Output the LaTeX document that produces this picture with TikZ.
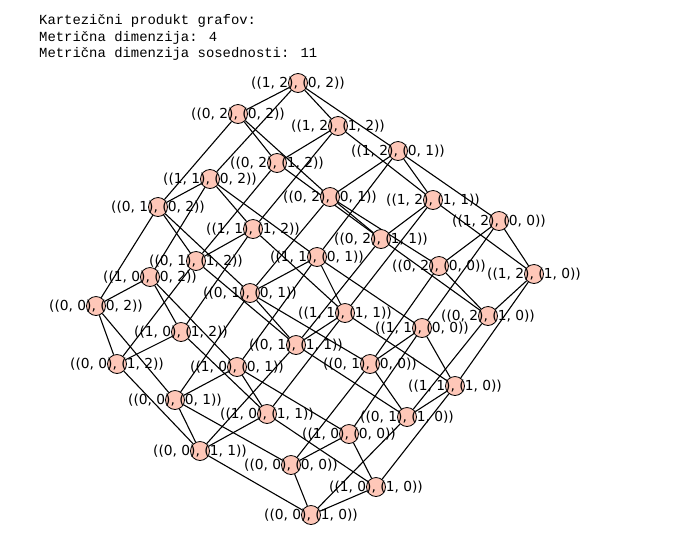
\documentclass[tikz,border=0pt]{standalone}
\usepackage{fontspec}
\newfontfamily\labelfont{DejaVu Sans}
\newfontfamily\headfont{Liberation Mono}
\definecolor{vfill}{HTML}{FEC7B8}
\pgfdeclarelayer{background}
\pgfsetlayers{background,main}
\tikzset{
  vert/.style={circle, draw, fill=vfill, minimum size=19pt, inner sep=0pt, line width=0.8pt},
  vlabel/.style={font=\labelfont\fontsize{13.8}{16}\selectfont, inner sep=0pt},
  edg/.style={line width=1.1pt}
}
\begin{document}
\begin{tikzpicture}[x=1pt, y=-1pt]
        \useasboundingbox (0, 0) rectangle (688, 539);
        \node[anchor=north west, align=left, inner sep=0pt, font=\headfont\fontsize{13.9}{16.5}\selectfont] (head) at (39, 14.5)
          {Kartezični produkt grafov:\\Metrična dimenzija: 4\\Metrična dimenzija sosednosti: 11};
        \node[vert, label={[vlabel]center:((1, 2), (0, 2))}] (v1202) at (298, 83) {};
        \node[vert, label={[vlabel]center:((0, 2), (0, 2))}] (v0202) at (238, 114) {};
        \node[vert, label={[vlabel]center:((1, 2), (1, 2))}] (v1212) at (338, 126) {};
        \node[vert, label={[vlabel]center:((1, 2), (0, 1))}] (v1201) at (398, 151) {};
        \node[vert, label={[vlabel]center:((0, 2), (1, 2))}] (v0212) at (277, 163) {};
        \node[vert, label={[vlabel]center:((1, 1), (0, 2))}] (v1102) at (210, 179) {};
        \node[vert, label={[vlabel]center:((0, 2), (0, 1))}] (v0201) at (330, 197) {};
        \node[vert, label={[vlabel]center:((1, 2), (1, 1))}] (v1211) at (433, 200) {};
        \node[vert, label={[vlabel]center:((0, 1), (0, 2))}] (v0102) at (158, 207) {};
        \node[vert, label={[vlabel]center:((1, 2), (0, 0))}] (v1200) at (499, 221) {};
        \node[vert, label={[vlabel]center:((1, 1), (1, 2))}] (v1112) at (253, 229) {};
        \node[vert, label={[vlabel]center:((0, 2), (1, 1))}] (v0211) at (381, 239) {};
        \node[vert, label={[vlabel]center:((1, 1), (0, 1))}] (v1101) at (317, 257) {};
        \node[vert, label={[vlabel]center:((0, 1), (1, 2))}] (v0112) at (196, 261) {};
        \node[vert, label={[vlabel]center:((0, 2), (0, 0))}] (v0200) at (439, 266) {};
        \node[vert, label={[vlabel]center:((1, 2), (1, 0))}] (v1210) at (534, 274) {};
        \node[vert, label={[vlabel]center:((1, 0), (0, 2))}] (v1002) at (150, 277) {};
        \node[vert, label={[vlabel]center:((0, 1), (0, 1))}] (v0101) at (250, 293) {};
        \node[vert, label={[vlabel]center:((0, 0), (0, 2))}] (v0002) at (96, 306) {};
        \node[vert, label={[vlabel]center:((0, 2), (1, 0))}] (v0210) at (488, 316) {};
        \node[vert, label={[vlabel]center:((1, 1), (1, 1))}] (v1111) at (345, 313) {};
        \node[vert, label={[vlabel]center:((1, 0), (1, 2))}] (v1012) at (181, 332) {};
        \node[vert, label={[vlabel]center:((1, 1), (0, 0))}] (v1100) at (422, 328) {};
        \node[vert, label={[vlabel]center:((0, 1), (1, 1))}] (v0111) at (296, 345) {};
        \node[vert, label={[vlabel]center:((0, 0), (1, 2))}] (v0012) at (117, 364) {};
        \node[vert, label={[vlabel]center:((1, 0), (0, 1))}] (v1001) at (237, 367) {};
        \node[vert, label={[vlabel]center:((0, 1), (0, 0))}] (v0100) at (370, 364) {};
        \node[vert, label={[vlabel]center:((1, 1), (1, 0))}] (v1110) at (455, 386) {};
        \node[vert, label={[vlabel]center:((0, 0), (0, 1))}] (v0001) at (175, 400) {};
        \node[vert, label={[vlabel]center:((1, 0), (1, 1))}] (v1011) at (267, 414) {};
        \node[vert, label={[vlabel]center:((0, 1), (1, 0))}] (v0110) at (407, 417) {};
        \node[vert, label={[vlabel]center:((1, 0), (0, 0))}] (v1000) at (349, 434) {};
        \node[vert, label={[vlabel]center:((0, 0), (1, 1))}] (v0011) at (200, 451) {};
        \node[vert, label={[vlabel]center:((0, 0), (0, 0))}] (v0000) at (291, 465) {};
        \node[vert, label={[vlabel]center:((1, 0), (1, 0))}] (v1010) at (376, 487) {};
        \node[vert, label={[vlabel]center:((0, 0), (1, 0))}] (v0010) at (311, 515) {};
        \begin{pgfonlayer}{background}
        \begin{scope}[edg]
        % edges of the first factor
        \draw (v0000) to (v0100); \draw (v0100) to (v0200); \draw (v1000) to (v1100); \draw (v1100) to (v1200);
        \draw (v0000) to (v1000); \draw (v0100) to (v1100); \draw (v0200) to (v1200);
        \draw (v0001) to (v0101); \draw (v0101) to (v0201); \draw (v1001) to (v1101); \draw (v1101) to (v1201);
        \draw (v0001) to (v1001); \draw (v0101) to (v1101); \draw (v0201) to (v1201);
        \draw (v0002) to (v0102); \draw (v0102) to (v0202); \draw (v1002) to (v1102); \draw (v1102) to (v1202);
        \draw (v0002) to (v1002); \draw (v0102) to (v1102); \draw (v0202) to (v1202);
        \draw (v0010) to (v0110); \draw (v0110) to (v0210); \draw (v1010) to (v1110); \draw (v1110) to (v1210);
        \draw (v0010) to (v1010); \draw (v0110) to (v1110); \draw (v0210) to (v1210);
        \draw (v0011) to (v0111); \draw (v0111) to (v0211); \draw (v1011) to (v1111); \draw (v1111) to (v1211);
        \draw (v0011) to (v1011); \draw (v0111) to (v1111); \draw (v0211) to (v1211);
        \draw (v0012) to (v0112); \draw (v0112) to (v0212); \draw (v1012) to (v1112); \draw (v1112) to (v1212);
        \draw (v0012) to (v1012); \draw (v0112) to (v1112); \draw (v0212) to (v1212);
        % edges of the second factor
        \draw (v0000) to (v0001); \draw (v0001) to (v0002); \draw (v0010) to (v0011); \draw (v0011) to (v0012);
        \draw (v0000) to (v0010); \draw (v0001) to (v0011); \draw (v0002) to (v0012);
        \draw (v0100) to (v0101); \draw (v0101) to (v0102); \draw (v0110) to (v0111); \draw (v0111) to (v0112);
        \draw (v0100) to (v0110); \draw (v0101) to (v0111); \draw (v0102) to (v0112);
        \draw (v0200) to (v0201); \draw (v0201) to (v0202); \draw (v0210) to (v0211); \draw (v0211) to (v0212);
        \draw (v0200) to (v0210); \draw (v0201) to (v0211); \draw (v0202) to (v0212);
        \draw (v1000) to (v1001); \draw (v1001) to (v1002); \draw (v1010) to (v1011); \draw (v1011) to (v1012);
        \draw (v1000) to (v1010); \draw (v1001) to (v1011); \draw (v1002) to (v1012);
        \draw (v1100) to (v1101); \draw (v1101) to (v1102); \draw (v1110) to (v1111); \draw (v1111) to (v1112);
        \draw (v1100) to (v1110); \draw (v1101) to (v1111); \draw (v1102) to (v1112);
        \draw (v1200) to (v1201); \draw (v1201) to (v1202); \draw (v1210) to (v1211); \draw (v1211) to (v1212);
        \draw (v1200) to (v1210); \draw (v1201) to (v1211); \draw (v1202) to (v1212);
        \end{scope}
        \end{pgfonlayer}
    \end{tikzpicture}
\end{document}
